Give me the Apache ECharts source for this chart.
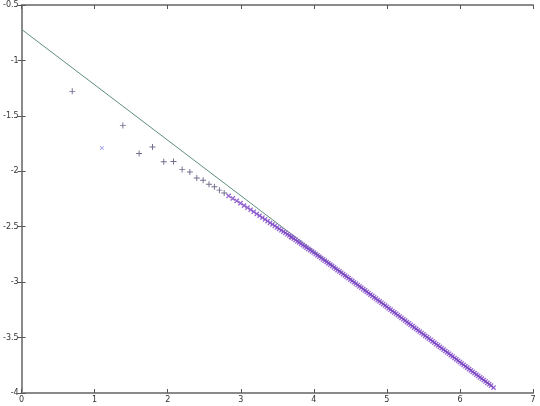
<!DOCTYPE html>
<html>
<head>
<meta charset="utf-8">
<script src="https://cdn.jsdelivr.net/npm/echarts@6/dist/echarts.min.js"></script>
<style>
  html, body { margin: 0; padding: 0; background: #fff; }
  #main { width: 540px; height: 406px; }
</style>
</head>
<body>
<div id="main"></div>
<script>
// log-log style data
var plusX = [0.693, 1.386, 1.609, 1.792, 1.946, 2.079, 2.197, 2.303, 2.398, 2.485, 2.565, 2.639, 2.708, 2.773]
var plusY = [-1.279, -1.588, -1.840, -1.781, -1.914, -1.912, -1.985, -2.006, -2.060, -2.080, -2.117, -2.140, -2.170, -2.195]

var oddX = [1.099]
var oddY = [-1.790]

var crossX = [2.833, 2.890, 2.944, 2.996, 3.045, 3.091, 3.135, 3.178, 3.219, 3.258, 3.296, 3.332, 3.367, 3.401,
  3.434, 3.466, 3.497, 3.526, 3.555, 3.584, 3.611, 3.638, 3.664, 3.689,
  3.700, 3.725, 3.750, 3.775, 3.800, 3.825, 3.850, 3.875, 3.900, 3.925, 3.950, 3.975,
  4.000, 4.025, 4.050, 4.075, 4.100, 4.125, 4.150, 4.175, 4.200, 4.225, 4.250, 4.275,
  4.300, 4.325, 4.350, 4.375, 4.400, 4.425, 4.450, 4.475, 4.500, 4.525, 4.550, 4.575,
  4.600, 4.625, 4.650, 4.675, 4.700, 4.725, 4.750, 4.775, 4.800, 4.825, 4.850, 4.875,
  4.900, 4.925, 4.950, 4.975, 5.000, 5.025, 5.050, 5.075, 5.100, 5.125, 5.150, 5.175,
  5.200, 5.225, 5.250, 5.275, 5.300, 5.325, 5.350, 5.375, 5.400, 5.425, 5.450, 5.475,
  5.500, 5.525, 5.550, 5.575, 5.600, 5.625, 5.650, 5.675, 5.700, 5.725, 5.750, 5.775,
  5.800, 5.825, 5.850, 5.875, 5.900, 5.925, 5.950, 5.975, 6.000, 6.025, 6.050, 6.075,
  6.100, 6.125, 6.150, 6.175, 6.200, 6.225, 6.250, 6.275, 6.300, 6.325, 6.350, 6.375,
  6.400, 6.425, 6.460]
var crossY = [-2.222, -2.245, -2.267, -2.288, -2.309, -2.328, -2.347, -2.365, -2.384, -2.401, -2.418, -2.434, -2.450, -2.465,
  -2.479, -2.493, -2.507, -2.519, -2.532, -2.544, -2.556, -2.568, -2.579, -2.591,
  -2.596, -2.608, -2.619, -2.631, -2.642, -2.654, -2.665, -2.677, -2.688, -2.700, -2.711, -2.723,
  -2.734, -2.746, -2.758, -2.770, -2.782, -2.794, -2.806, -2.818, -2.830, -2.842, -2.854, -2.867,
  -2.879, -2.891, -2.903, -2.915, -2.928, -2.940, -2.952, -2.964, -2.977, -2.989, -3.001, -3.013,
  -3.026, -3.038, -3.050, -3.063, -3.075, -3.087, -3.100, -3.112, -3.124, -3.137, -3.149, -3.162,
  -3.174, -3.186, -3.198, -3.211, -3.223, -3.236, -3.248, -3.261, -3.273, -3.285, -3.297, -3.310,
  -3.322, -3.335, -3.347, -3.360, -3.372, -3.385, -3.397, -3.410, -3.422, -3.434, -3.446, -3.459,
  -3.471, -3.484, -3.496, -3.509, -3.521, -3.534, -3.546, -3.559, -3.571, -3.584, -3.596, -3.609,
  -3.621, -3.634, -3.646, -3.659, -3.671, -3.684, -3.696, -3.709, -3.721, -3.734, -3.746, -3.759,
  -3.771, -3.784, -3.796, -3.809, -3.821, -3.834, -3.846, -3.859, -3.871, -3.884, -3.896, -3.909,
  -3.921, -3.934, -3.951]

var fitX = [0, 6.46]
var fitY = [-0.72, -3.95]

function pairs (xs, ys) {
  var out = []
  for (var i = 0; i < xs.length; i++) out.push([xs[i], ys[i]])
  return out
}

var plusPath = 'path://M4.2,0h1.6v4.2h4.2v1.6h-4.2v4.2h-1.6v-4.2h-4.2v-1.6h4.2z'
var crossPath = 'path://M3.9,0h2.2v3.9h3.9v2.2h-3.9v3.9h-2.2v-3.9h-3.9v-2.2h3.9z'
var frameColor = '#8a8a8a'
var labelStyle = { color: '#333', fontSize: 8, fontFamily: 'DejaVu Sans' }

var chart = echarts.init(document.getElementById('main'))
var option = {
  animation: false,
  grid: { left: 16, right: 7, top: 5, bottom: 13 },
  xAxis: [
    {
      type: 'value', min: 0, max: 7, interval: 1, position: 'bottom',
      axisLine: { show: true, lineStyle: { color: frameColor, width: 2 } },
      axisTick: { show: true, inside: true, length: 4, lineStyle: { color: '#555' } },
      axisLabel: Object.assign({ margin: 3 }, labelStyle),
      splitLine: { show: false }
    },
    {
      type: 'value', min: 0, max: 7, interval: 1, position: 'top',
      axisLine: { show: true, lineStyle: { color: frameColor, width: 2 } },
      axisTick: { show: true, inside: true, length: 4, lineStyle: { color: '#555' } },
      axisLabel: { show: false },
      splitLine: { show: false }
    }
  ],
  yAxis: [
    {
      type: 'value', min: -4, max: -0.5, interval: 0.5, position: 'left',
      axisLine: { show: true, lineStyle: { color: frameColor, width: 2 } },
      axisTick: { show: true, inside: true, length: 4, lineStyle: { color: '#555' } },
      axisLabel: Object.assign({ margin: 3 }, labelStyle),
      splitLine: { show: false }
    },
    {
      type: 'value', min: -4, max: -0.5, interval: 0.5, position: 'right',
      axisLine: { show: true, lineStyle: { color: frameColor, width: 2 } },
      axisTick: { show: true, inside: true, length: 4, lineStyle: { color: '#555' } },
      axisLabel: { show: false },
      splitLine: { show: false }
    }
  ],
  series: [
    {
      type: 'line',
      data: pairs(fitX, fitY),
      showSymbol: false,
      lineStyle: { color: '#5e8e7e', width: 1 },
      z: 1
    },
    {
      type: 'scatter',
      data: pairs(plusX, plusY),
      symbol: plusPath,
      symbolSize: 6,
      itemStyle: { color: '#4c4a72' },
      z: 2
    },
    {
      type: 'scatter',
      data: pairs(oddX, oddY),
      symbol: plusPath,
      symbolSize: 5,
      symbolRotate: 45,
      itemStyle: { color: '#7c7cdc' },
      z: 2
    },
    {
      type: 'scatter',
      data: pairs(crossX, crossY),
      symbol: crossPath,
      symbolSize: 6,
      symbolRotate: 45,
      itemStyle: { color: '#7a42c6' },
      z: 3
    }
  ]
}
option && chart.setOption(option)
</script>
</body>
</html>
